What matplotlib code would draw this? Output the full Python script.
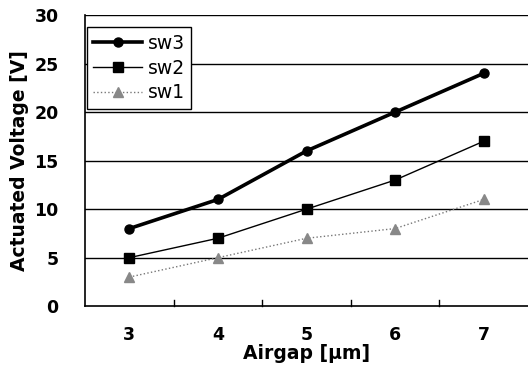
import numpy as np
import matplotlib
matplotlib.use('Agg')
import matplotlib.pyplot as plt

# Data
airgap = [3, 4, 5, 6, 7]
sw3 = [8, 11, 16, 20, 24]
sw2 = [5, 7, 10, 13, 17]
sw1 = [3, 5, 7, 8, 11]
yticks = [0, 5, 10, 15, 20, 25, 30]

plt.rcParams['font.family'] = ['DejaVu Sans']

fig = plt.figure(figsize=(5.28, 3.78), dpi=100)
ax = fig.add_axes([0.161, 0.19, 0.839, 0.77])

x = np.arange(len(airgap))
ax.plot(x, sw3, '-', color='black', linewidth=2.6, marker='o', markersize=6.5, label='sw3', zorder=5)
ax.plot(x, sw2, '-', color='black', linewidth=1.0, marker='s', markersize=7, label='sw2', zorder=4)
ax.plot(x, sw1, ':', color='#777777', linewidth=1.0, marker='^', markersize=6.5,
        markerfacecolor='#888888', markeredgecolor='#888888', label='sw1', zorder=3)

ax.set_xlim(-0.5, len(airgap) - 0.5)
ax.set_ylim(0, 30)
ax.set_yticks(yticks)
ax.set_yticklabels([str(v) for v in yticks], fontsize=12.5, fontweight='bold')
ax.set_xticks(x)
ax.set_xticklabels([str(v) for v in airgap], fontsize=12.5, fontweight='bold')
ax.tick_params(axis='x', length=0, pad=14)
ax.tick_params(axis='y', length=0, pad=19)

# category separators on bottom axis
for b in x[:-1] + 0.5:
    ax.plot([b, b], [0, 0.6], color='black', linewidth=1.0, clip_on=False)

for v in yticks[1:]:
    ax.axhline(v, color='black', linewidth=1.0, zorder=1)

ax.spines['right'].set_visible(False)
ax.spines['top'].set_visible(False)
ax.spines['left'].set_linewidth(1.2)
ax.spines['bottom'].set_linewidth(1.2)

ax.set_xlabel('Airgap [\u03bcm]', fontsize=13.5, fontweight='bold', labelpad=0)
ax.set_ylabel('Actuated Voltage [V]', fontsize=13.5, fontweight='bold', labelpad=4)

leg = ax.legend(loc='upper left', bbox_to_anchor=(0.004, 0.958), fontsize=13.5,
                frameon=True, fancybox=False, edgecolor='black', framealpha=1,
                handlelength=2.6, borderpad=0.35, labelspacing=0.3, handletextpad=0.3,
                borderaxespad=0)
leg.get_frame().set_linewidth(1.0)

fig.savefig('out.png', dpi=100)
